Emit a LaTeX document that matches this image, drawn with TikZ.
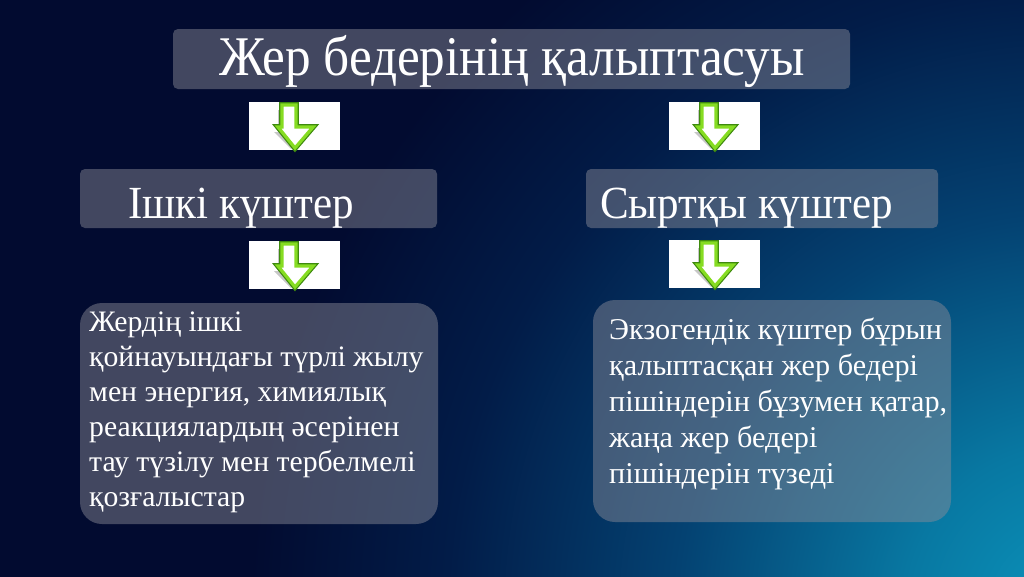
\documentclass[tikz,border=0pt]{standalone}
\usepackage{fontspec}
\setmainfont{Liberation Serif}
\usetikzlibrary{calc}
\definecolor{navy}{HTML}{020B30}
\definecolor{bgA}{HTML}{0B93BB}
\definecolor{bgB}{HTML}{0878A2}
\definecolor{bgC}{HTML}{044272}
\definecolor{bgD}{HTML}{021C48}
\definecolor{boxgray}{HTML}{8C8C98}
\definecolor{argreen}{HTML}{86DC22}
\definecolor{ardark}{HTML}{3E8A0E}
\pgfdeclareradialshading{bgshade}{\pgfpoint{0bp}{0bp}}{color(0bp)=(bgA); color(2.5bp)=(bgB); color(6bp)=(bgC); color(9.5bp)=(bgD); color(12.5bp)=(navy); color(50bp)=(navy)}
\tikzset{
  panel/.style={fill=boxgray, fill opacity=0.47, rounded corners=5pt, draw=none},
  bigpanel/.style={fill=boxgray, fill opacity=0.47, rounded corners=22pt, draw=none},
  titletext/.style={text=white, font=\fontsize{56}{62}\selectfont, xscale=0.915, inner sep=0pt},
  headtext/.style={text=white, font=\fontsize{46}{50}\selectfont, xscale=0.935, inner sep=0pt},
  bodytext/.style={text=white, font=\fontsize{29.7}{35}\selectfont, inner sep=0pt, align=left},
  iconbox/.style={fill=white, draw=none}
}
\newcommand{\downarrowicon}[2]{%
  % #1 = left x, #2 = top y of white box
  \fill[white] (#1,#2) rectangle ++(91,48);
  \fill[black, opacity=0.22] ($(#1,#2)+(29,8)$) -- ++(14,0) -- ++(0,22) -- ++(17,0) -- ++(-18,17) -- ++(-17,-17) -- ++(4,0) -- cycle;
  \draw[ardark, line width=5.6pt, line join=miter] ($(#1,#2)+(33,3)$) -- ++(14,0) -- ++(0,22) -- ++(17,0) -- ++(-18,21) -- ++(-17,-21) -- ++(4,0) -- cycle;
  \draw[argreen, line width=3.2pt, line join=miter, fill=white] ($(#1,#2)+(33,3)$) -- ++(14,0) -- ++(0,22) -- ++(17,0) -- ++(-18,21) -- ++(-17,-21) -- ++(4,0) -- cycle;
}
\begin{document}
\begin{tikzpicture}[x=1pt,y=-1pt]
\useasboundingbox (0,0) rectangle (1024,576);
\fill[navy] (0,0) rectangle (1024,576);
\begin{scope}
  \clip (0,0) rectangle (1024,576);
  \shade[shading=bgshade] (-570,-1030) rectangle (2710,2250);
\end{scope}

% title
\fill[panel] (173,29) rectangle (850,89);
\node[titletext, anchor=base] (title) at (512,75) {Жер бедерінің қалыптасуы};

% arrows row 1
\downarrowicon{249}{102}
\downarrowicon{669}{102}

% second-level headers
\fill[panel] (80,169) rectangle (437,228);
\node[headtext, anchor=base west] (inner) at (128,218) {Ішкі күштер};
\fill[panel] (586,169) rectangle (938,228);
\node[headtext, anchor=base west] (outer) at (600,218) {Сыртқы күштер};

% arrows row 2
\downarrowicon{249}{241}
\downarrowicon{669}{240}

% bottom boxes
\fill[bigpanel] (80,303) rectangle (438,524);
\node[bodytext, anchor=north west] (ltext) at (89,312) {Жердің ішкі\\қойнауындағы түрлі жылу\\мен энергия, химиялық\\реакциялардың әсерінен\\тау түзілу мен тербелмелі\\қозғалыстар};
\fill[bigpanel] (593,300) rectangle (951,522);
\node[bodytext, anchor=north west, font=\fontsize{30.2}{36}\selectfont] (rtext) at (609,318) {Экзогендік күштер бұрын\\қалыптасқан жер бедері\\пішіндерін бұзумен қатар,\\жаңа жер бедері\\пішіндерін түзеді};
\end{tikzpicture}
\end{document}
